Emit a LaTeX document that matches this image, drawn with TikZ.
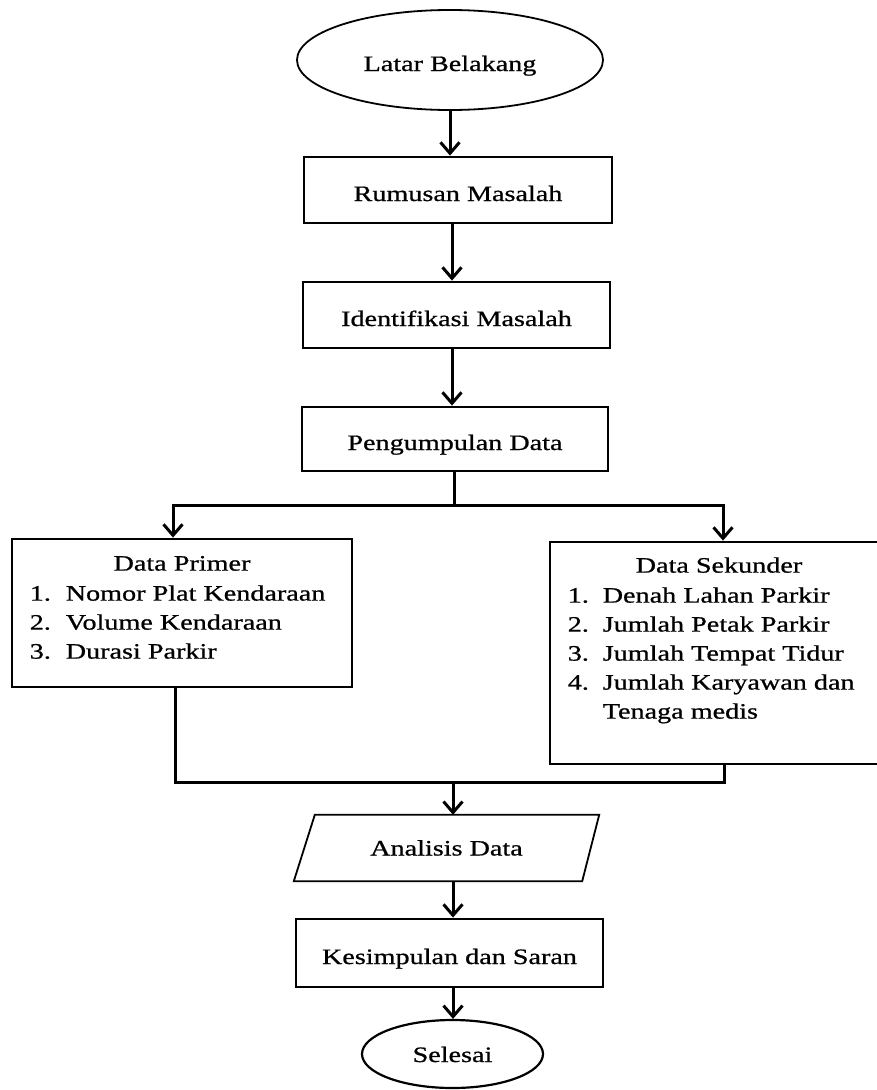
\documentclass[tikz,border=0pt]{standalone}
\usepackage{fontspec}
\setmainfont{Liberation Serif}[FakeStretch=1.28,FakeBold=0.8]
\usetikzlibrary{arrows.meta,shapes.geometric,calc}
\begin{document}
\begin{tikzpicture}[x=1pt,y=-1pt,
  font=\fontsize{22}{29}\selectfont,
  box/.style={draw,line width=2.8pt,rectangle,inner sep=0pt,text height=22pt,text depth=0pt},
  term/.style={draw,line width=1.8pt,ellipse,inner sep=0pt,text height=22pt,text depth=0pt},
  conn/.style={line width=3pt},
  arr/.style={conn,-{Straight Barb[length=11pt,width=19pt]}},
  txt/.style={inner sep=0pt}]
\useasboundingbox (0,0) rectangle (877,1090);
% nodes
\node[term,minimum width=306pt,minimum height=100pt] (lb) at (450,60) {Latar Belakang};
\node[box,minimum width=308pt,minimum height=66pt] (rm) at (458,190) {Rumusan Masalah};
\node[box,minimum width=307pt,minimum height=66pt] (im) at (456.5,315) {Identifikasi Masalah};
\node[box,minimum width=306pt,minimum height=64pt] (pd) at (455,439) {Pengumpulan Data};
\node[box,minimum width=340pt,minimum height=148pt] (dp) at (182,613) {};
\node[box,minimum width=338pt,minimum height=222pt] (ds) at (719,653) {};
\node[txt,anchor=base] (dpt) at ($(dp.north)+(0,33)$) {Data Primer};
\node[txt,anchor=base west] (dpl) at ($(dp.north west)+(19,63)$)
  {\begin{tabular}[t]{@{}p{36pt}@{}l@{}}
   1. & Nomor Plat Kendaraan\\
   2. & Volume Kendaraan\\
   3. & Durasi Parkir
   \end{tabular}};
\node[txt,anchor=base] (dst) at ($(ds.north)+(0,32)$) {Data Sekunder};
\node[txt,anchor=base west] (dsl) at ($(ds.north west)+(19,62)$)
  {\begin{tabular}[t]{@{}p{35pt}@{}l@{}}
   1. & Denah Lahan Parkir\\
   2. & Jumlah Petak Parkir\\
   3. & Jumlah Tempat Tidur\\
   4. & Jumlah Karyawan dan\\
      & Tenaga medis
   \end{tabular}};
\node[txt,minimum width=305pt,minimum height=66pt,text height=15pt,text depth=0pt] (ad) at (446.5,848) {Analisis Data};
\draw[line width=1.8pt,line join=miter] (ad.south west) -- ($(ad.north west)+(21,0)$) -- (ad.north east) -- ($(ad.south east)+(-17,0)$) -- cycle;
\node[box,minimum width=307pt,minimum height=68pt] (ks) at (449.5,953) {Kesimpulan dan Saran};
\node[term,minimum width=181pt,minimum height=68pt,text height=16pt,line width=2.2pt] (se) at (452.5,1054) {Selesai};
% helper coordinates
\coordinate (ax) at (452,0);
\coordinate (s) at (454,505);
\coordinate (jl) at (173,505);
\coordinate (jr) at (723,505);
\coordinate (ml) at (175,782);
\coordinate (mr) at (724,782);
\coordinate (m) at (453,782);
% connectors
\draw[arr] (lb.south) -- (lb.south |- rm.north);
\draw[arr] (rm.south -| ax) -- (im.north -| ax);
\draw[arr] (im.south -| ax) -- (pd.north -| ax);
\draw[arr] (pd.south -| s) -- (s) -| (jl |- dp.north);
\draw[arr] (s) -| (jr |- ds.north);
\draw[conn] (dp.south -| ml) -- (ml) -- (mr) -- (ds.south -| mr);
\draw[arr] (m) -- (m |- ad.north);
\draw[arr] (ad.south -| m) -- (ks.north -| m);
\draw[arr] (ks.south -| m) -- (se.north -| m);
\end{tikzpicture}
\end{document}
